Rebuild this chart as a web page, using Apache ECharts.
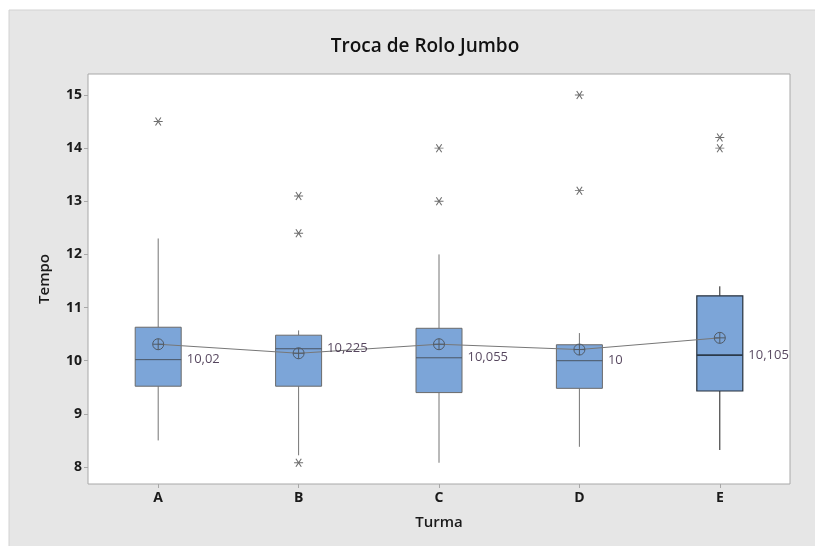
<!DOCTYPE html>
<html>
<head>
<meta charset="utf-8">
<script src="https://cdn.jsdelivr.net/npm/echarts@6/dist/echarts.min.js"></script>
<style>html,body{margin:0;padding:0;background:#fff}#c{width:815px;height:546px}</style>
</head>
<body>
<div id="c"></div>
<script>
var categories = ['A', 'B', 'C', 'D', 'E'];
// [lower whisker, Q1, median, Q3, upper whisker]
var boxA = [8.5, 9.52, 10.02, 10.63, 12.3];
var boxB = [8.22, 9.52, 10.225, 10.48, 10.57];
var boxC = [8.08, 9.4, 10.055, 10.61, 12.0];
var boxD = [8.38, 9.48, 10.0, 10.3, 10.52];
var boxE = [8.32, 9.43, 10.105, 11.22, 11.4];
var means = [10.31, 10.14, 10.31, 10.21, 10.43];
var medianLabels = ['10,02', '10,225', '10,055', '10', '10,105'];
var outliers = [['A', 14.5], ['B', 13.1], ['B', 12.4], ['B', 8.08], ['C', 14.0], ['C', 13.0], ['D', 15.0], ['D', 13.2], ['E', 14.2], ['E', 14.0]];
var yTicks = [8, 9, 10, 11, 12, 13, 14, 15];

var boxes = [boxA, boxB, boxC, boxD, boxE];
var chart = echarts.init(document.getElementById('c'), null, {renderer: 'canvas'});
var boxData = boxes.map(function (b, i) {
  return [i, b[0], b[1], b[2], b[3], b[4]];
});
var medData = categories.map(function (c, i) {
  return {value: [c, boxes[i][2]], label: {formatter: medianLabels[i]}};
});
var asterisk = 'path://M-5,0 L5,0 M-3,-4.5 L3,4.5 M-3,4.5 L3,-4.5';
var meanSym = 'path://M0,-6 A6,6 0 1,1 0,6 A6,6 0 1,1 0,-6 Z M-6,0 L6,0 M0,-6 L0,6';
var font = '"Open Sans", "Noto Sans", sans-serif';
var BOXW = 46;

function renderBox(params, api) {
  var i = api.value(0);
  var pLow = api.coord([i, api.value(1)]);
  var pQ1 = api.coord([i, api.value(2)]);
  var pMed = api.coord([i, api.value(3)]);
  var pQ3 = api.coord([i, api.value(4)]);
  var pHigh = api.coord([i, api.value(5)]);
  var x = pMed[0];
  var dark = i === 4;
  var edge = dark ? '#27313c' : '#6a6a6a';
  var whisk = dark ? '#1e1e1e' : '#757575';
  var half = BOXW / 2;
  return {
    type: 'group',
    children: [
      {type: 'line', shape: {x1: x, y1: pQ3[1], x2: x, y2: pHigh[1]}, style: {stroke: whisk, lineWidth: 1}},
      {type: 'line', shape: {x1: x, y1: pQ1[1], x2: x, y2: pLow[1]}, style: {stroke: whisk, lineWidth: 1}},
      {type: 'rect', shape: {x: x - half, y: pQ3[1], width: BOXW, height: pQ1[1] - pQ3[1]},
        style: {fill: '#7ca5d8', stroke: edge, lineWidth: dark ? 1.2 : 1}},
      {type: 'line', shape: {x1: x - half, y1: pMed[1], x2: x + half, y2: pMed[1]},
        style: {stroke: dark ? '#2b3a4a' : '#4a5563', lineWidth: dark ? 1.6 : 1}}
    ]
  };
}

chart.setOption({
  backgroundColor: '#ffffff',
  animation: false,
  graphic: [{
    type: 'rect', z: -10, silent: true,
    shape: {x: 9, y: 10, width: 830, height: 560},
    style: {fill: '#e6e6e6', stroke: '#d2d2d2', lineWidth: 1}
  }],
  title: {
    text: 'Troca de Rolo Jumbo', left: 420, top: 32, textAlign: 'center',
    textStyle: {fontFamily: font, fontSize: 19, fontWeight: 600, color: '#111111'}
  },
  grid: {
    left: 88, right: 25, top: 74, bottom: 62, show: true,
    backgroundColor: '#ffffff', borderColor: '#a8a8a8', borderWidth: 1
  },
  xAxis: {
    type: 'category', data: categories, boundaryGap: true,
    name: 'Turma', nameLocation: 'middle', nameGap: 31,
    nameTextStyle: {fontFamily: font, fontSize: 15, fontWeight: 600, color: '#1a1a1a'},
    axisLine: {show: false},
    axisTick: {show: true, alignWithLabel: true, length: 4, lineStyle: {color: '#a8a8a8'}},
    axisLabel: {fontFamily: font, fontSize: 14, fontWeight: 'bold', color: '#1a1a1a', margin: 7},
    splitLine: {show: false}
  },
  yAxis: {
    type: 'value', min: 7.68, max: 15.395,
    name: 'Tempo', nameLocation: 'middle', nameGap: 36,
    nameTextStyle: {fontFamily: font, fontSize: 15, fontWeight: 600, color: '#1a1a1a'},
    axisLine: {show: false},
    axisTick: {show: true, length: 4, lineStyle: {color: '#a8a8a8'}, customValues: yTicks},
    axisLabel: {fontFamily: font, fontSize: 14, fontWeight: 'bold', color: '#1a1a1a', margin: 6, customValues: yTicks},
    splitLine: {show: false}
  },
  series: [
    {
      type: 'custom', data: boxData, renderItem: renderBox, z: 2,
      encode: {x: 0, y: [1, 2, 3, 4, 5]}
    },
    {
      type: 'line', data: means, z: 3,
      symbol: meanSym, symbolSize: 11,
      lineStyle: {color: '#777777', width: 1},
      itemStyle: {color: 'rgba(0,0,0,0)', borderColor: '#505a66', borderWidth: 1}
    },
    {
      type: 'scatter', data: outliers, z: 4,
      symbol: asterisk, symbolSize: [9, 8],
      itemStyle: {color: 'rgba(0,0,0,0)', borderColor: '#4a4a4a', borderWidth: 1}
    },
    {
      type: 'scatter', data: medData, z: 5, symbolSize: 1,
      itemStyle: {color: 'rgba(0,0,0,0)'},
      label: {show: true, position: 'right', distance: 28,
        fontFamily: font, fontSize: 13, color: '#2a1634'}
    }
  ]
});
</script>
</body>
</html>
